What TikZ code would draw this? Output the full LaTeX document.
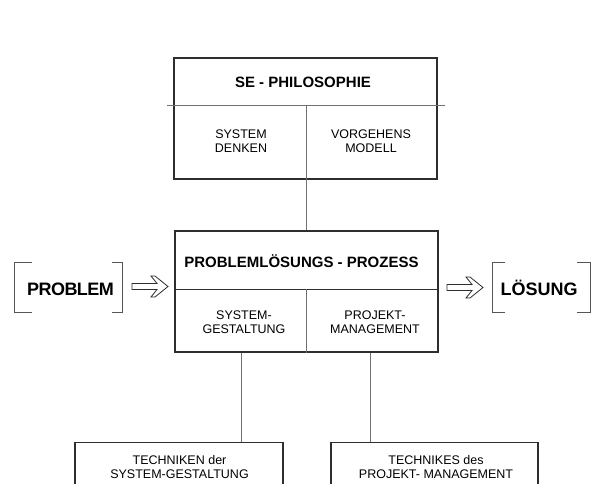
\documentclass[tikz,border=0pt]{standalone}
\usepackage{fontspec}
\setmainfont{Liberation Sans}
\definecolor{boxline}{HTML}{2E2E2E}
\definecolor{linegray}{HTML}{707070}
\definecolor{bracketgray}{HTML}{555555}
\begin{document}
\begin{tikzpicture}[x=1pt,y=-1pt,
  frame/.style={draw=boxline, line width=1.3pt, inner sep=0pt},
  thinline/.style={draw=linegray, line width=0.9pt},
  divline/.style={draw=boxline, line width=1pt},
  bracket/.style={draw=bracketgray, line width=1pt},
  title/.style={font=\fontsize{15}{17}\selectfont\bfseries, anchor=base, inner sep=0pt},
  cell/.style={font=\fontsize{12.5}{14.5}\selectfont, align=center, inner sep=0pt},
  lowcell/.style={font=\fontsize{12.5}{13.5}\selectfont, align=center, inner sep=0pt},
  big/.style={font=\fontsize{18}{20}\selectfont\bfseries, anchor=base, inner sep=0pt},
  outarrow/.style={draw=boxline, line width=0.8pt, fill=white, line join=miter}
]
\useasboundingbox (0,0) rectangle (592,484);
\clip (0,0) rectangle (592,484);

% SE philosophy box
\node[frame, minimum width=263pt, minimum height=121pt] (se) at (305.5,118.5) {};
\node[title] (setitle) at (303,88) {SE - PHILOSOPHIE};
\coordinate (seL) at (167,105);
\coordinate (seR) at (445,105);
\coordinate (sediv) at (306,105);
\draw[thinline] (seL) -- (seR);
\node[cell] (denken) at (241,141) {SYSTEM\\DENKEN};
\node[cell] (modell) at (371,141) {VORGEHENS\\MODELL};

% problem solving process box
\node[frame, minimum width=263pt, minimum height=121pt] (pl) at (306.5,291.5) {};
\node[title] (pltitle) at (301.5,267) {PROBLEMLÖSUNGS - PROZESS};
\coordinate (pldiv) at (306.5,289);
\draw[divline] (pl.west |- pldiv) -- (pl.east |- pldiv);
\draw[thinline] (pldiv) -- (pldiv |- pl.south);
\node[cell] (gest) at (244,322) {SYSTEM-\\GESTALTUNG};
\node[cell] (pm) at (375,322) {PROJEKT-\\MANAGEMENT};

% link between the two upper boxes
\draw[thinline] (sediv) -- (sediv |- pl.north);

% technique boxes
\node[frame, minimum width=208pt, minimum height=70pt, anchor=north] (tech1) at (179,442) {};
\node[frame, minimum width=207pt, minimum height=70pt, anchor=north] (tech2) at (434.5,442) {};
\node[lowcell] (tech1t) at (179.5,467) {TECHNIKEN der\\SYSTEM-GESTALTUNG};
\node[lowcell] (tech2t) at (436,467) {TECHNIKES des\\PROJEKT- MANAGEMENT};
\coordinate (drop1) at (241,352);
\coordinate (drop2) at (370,352);
\draw[thinline] (drop1 |- pl.south) -- (drop1 |- tech1.north);
\draw[thinline] (drop2 |- pl.south) -- (drop2 |- tech2.north);

% problem and solution in brackets
\node[big, font=\fontsize{18}{20}\selectfont\bfseries\addfontfeature{LetterSpace=-3}] (prob) at (70.5,295) {PROBLEM};
\draw[bracket] (32,262) -- (14,262) -- (14,312) -- (32,312);
\draw[bracket] (112,262) -- (122,262) -- (122,312) -- (112,312);
\node[big] (loes) at (539,295) {LÖSUNG};
\draw[bracket] (505,262) -- (492,262) -- (492,312) -- (505,312);
\draw[bracket] (577,262) -- (590.5,262) -- (590.5,312) -- (577,312);

% outlined arrows
\foreach \ax/\ay in {132/286.5, 447/287.5}{
  \draw[outarrow, shift={(\ax,\ay)}]
    (0,-3) -- (25,-3) -- (19,-10.5) -- (23,-10.5) -- (36,0)
    -- (23,10.5) -- (19,10.5) -- (25,3) -- (0,3) -- cycle;
}
\end{tikzpicture}
\end{document}
